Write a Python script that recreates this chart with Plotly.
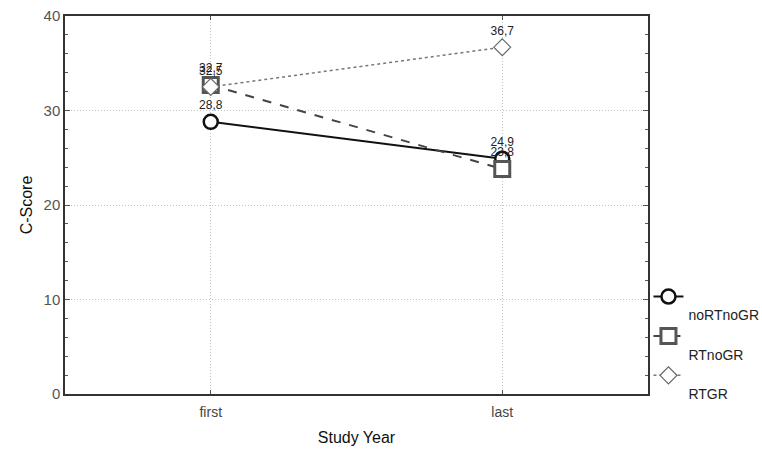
import plotly.graph_objects as go

categories = ["first", "last"]
series_names = ["noRTnoGR", "RTnoGR", "RTGR"]
noRTnoGR = [28.8, 24.9]
RTnoGR = [32.7, 23.8]
RTGR = [32.5, 36.7]
y_ticks = [0, 10, 20, 30, 40]

x = list(range(len(categories)))

def labels(vals):
    return [f"{v:.1f}".replace(".", ",") for v in vals]

styles = [
    dict(color="#111111", dash="solid", width=2, symbol="circle", size=14, mlw=2.5, mcol="#111111"),
    dict(color="#444444", dash="dash", width=2, symbol="square", size=15, mlw=3, mcol="#555555"),
    dict(color="#777777", dash="dot", width=1.5, symbol="diamond", size=13, mlw=1.2, mcol="#666666"),
]

fig = go.Figure()
for name, vals, st in zip(series_names, [noRTnoGR, RTnoGR, RTGR], styles):
    fig.add_trace(go.Scatter(
        x=x, y=vals, name="<br>" + name, mode="lines+markers+text",
        text=labels(vals), textposition="top center",
        textfont=dict(size=12, color="#222222", family="Liberation Sans"),
        line=dict(color=st["color"], dash=st["dash"], width=st["width"]),
        marker=dict(symbol=st["symbol"], size=st["size"], color="white",
                    line=dict(color=st["mcol"], width=st["mlw"])),
        cliponaxis=False,
        hoverinfo="skip",
    ))

fig.update_layout(
    width=762, height=450,
    margin=dict(l=65, r=114, t=16, b=56),
    paper_bgcolor="white", plot_bgcolor="white",
    font=dict(family="Liberation Sans", color="#222222"),
    legend=dict(xref="container", yref="container", x=0.851, y=0.089,
                xanchor="left", yanchor="bottom",
                valign="top", tracegroupgap=2,
                bgcolor="rgba(0,0,0,0)",
                font=dict(size=14, color="#222222"),
                itemwidth=30),
    showlegend=True,
    hovermode=False,
)
fig.update_xaxes(
    range=[-0.5, 1.5], tickvals=x, ticktext=categories,
    automargin=False,
    showline=True, linecolor="#333333", linewidth=1.5, mirror="allticks",
    showgrid=True, gridcolor="#c4c4c4", griddash="1px,2px", gridwidth=1,
    ticks="inside", ticklen=4, tickcolor="#555555",
    tickfont=dict(size=14, color="#444444"), ticklabelstandoff=4,
    title=dict(text="Study Year", font=dict(size=16, color="#111111"), standoff=13),
    zeroline=False,
)
fig.update_yaxes(
    range=[0, 40], tickvals=y_ticks,
    automargin=False,
    showline=True, linecolor="#333333", linewidth=1.5, mirror="allticks",
    showgrid=True, gridcolor="#c4c4c4", griddash="1px,2px", gridwidth=1,
    ticks="inside", ticklen=5, tickcolor="#555555",
    minor=dict(dtick=2, ticks="inside", ticklen=3, tickcolor="#555555", showgrid=False),
    tickfont=dict(size=15, color="#555555"),
    title=dict(text="C-Score", font=dict(size=16, color="#111111"), standoff=7),
    zeroline=False,
)

fig.write_html("out.html", config={"displayModeBar": False},
               post_script="document.body.style.margin='0px';")
